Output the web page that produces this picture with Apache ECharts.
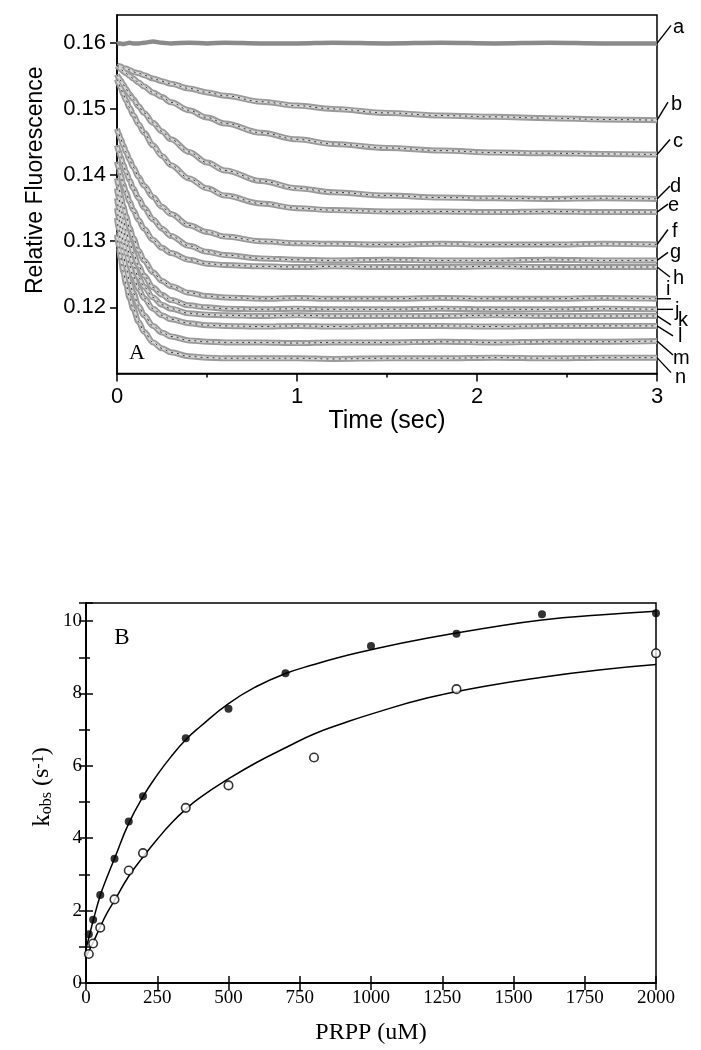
<!DOCTYPE html>
<html><head><meta charset="utf-8">
<script src="https://cdn.jsdelivr.net/npm/echarts@6/dist/echarts.min.js"></script>
<style>html,body{margin:0;padding:0;background:#fff}#c{width:701px;height:1050px}</style>
</head><body><div id="c"></div>
<script>
// ---------- Panel A data (time in s, relative fluorescence) ----------
const time = [0, 0.01, 0.02, 0.035, 0.05, 0.07, 0.09, 0.12, 0.15, 0.2, 0.25, 0.3, 0.4, 0.5, 0.6, 0.8, 1.0, 1.2, 1.5, 1.8, 2.1, 2.4, 2.7, 3.0];
const traceA = [0.1598,0.1599,0.1599,0.1598,0.1599,0.1600,0.1599,0.1599,0.1600,0.1602,0.1600,0.1599,0.1600,0.1599,0.1600,0.1599,0.1599,0.1600,0.1599,0.1600,0.1599,0.1600,0.1599,0.1599];
const traceB = [0.1566,0.1565,0.1564,0.1562,0.1561,0.1559,0.1556,0.1554,0.1551,0.1546,0.1542,0.1538,0.1531,0.1525,0.1520,0.1511,0.1505,0.1500,0.1494,0.1490,0.1488,0.1486,0.1484,0.1483];
const traceC = [0.1565,0.1563,0.1560,0.1557,0.1554,0.1550,0.1546,0.1540,0.1534,0.1525,0.1518,0.1510,0.1498,0.1487,0.1478,0.1464,0.1454,0.1447,0.1441,0.1437,0.1434,0.1433,0.1432,0.1431];
const traceD = [0.1552,0.1547,0.1543,0.1537,0.1530,0.1522,0.1515,0.1504,0.1494,0.1479,0.1466,0.1454,0.1435,0.1419,0.1407,0.1391,0.1380,0.1374,0.1369,0.1366,0.1365,0.1364,0.1365,0.1364];
const traceE = [0.1545,0.1538,0.1532,0.1522,0.1513,0.1502,0.1491,0.1477,0.1464,0.1445,0.1429,0.1415,0.1395,0.1380,0.1369,0.1357,0.1350,0.1347,0.1345,0.1345,0.1344,0.1345,0.1344,0.1344];
const traceF = [0.1470,0.1462,0.1455,0.1445,0.1435,0.1423,0.1412,0.1397,0.1384,0.1367,0.1352,0.1341,0.1324,0.1314,0.1307,0.1300,0.1297,0.1296,0.1295,0.1296,0.1295,0.1295,0.1296,0.1295];
const traceG = [0.1445,0.1436,0.1428,0.1416,0.1405,0.1392,0.1380,0.1365,0.1351,0.1333,0.1319,0.1308,0.1293,0.1284,0.1279,0.1274,0.1272,0.1271,0.1272,0.1271,0.1271,0.1272,0.1271,0.1271];
const traceH = [0.1420,0.1410,0.1400,0.1386,0.1374,0.1360,0.1347,0.1332,0.1319,0.1302,0.1290,0.1282,0.1272,0.1266,0.1264,0.1262,0.1261,0.1262,0.1261,0.1261,0.1262,0.1261,0.1261,0.1261];
const traceI = [0.1395,0.1382,0.1369,0.1353,0.1338,0.1320,0.1305,0.1286,0.1271,0.1253,0.1240,0.1232,0.1222,0.1217,0.1215,0.1213,0.1214,0.1213,0.1213,0.1214,0.1213,0.1213,0.1214,0.1213];
const traceJ = [0.1380,0.1365,0.1351,0.1333,0.1316,0.1298,0.1282,0.1263,0.1248,0.1230,0.1219,0.1211,0.1203,0.1200,0.1198,0.1197,0.1198,0.1197,0.1197,0.1198,0.1197,0.1197,0.1198,0.1197];
const traceK = [0.1365,0.1349,0.1335,0.1316,0.1299,0.1280,0.1264,0.1245,0.1231,0.1215,0.1204,0.1198,0.1191,0.1189,0.1188,0.1187,0.1188,0.1187,0.1187,0.1187,0.1188,0.1187,0.1187,0.1187];
const traceL = [0.1350,0.1334,0.1319,0.1299,0.1282,0.1263,0.1247,0.1228,0.1214,0.1198,0.1188,0.1182,0.1176,0.1173,0.1172,0.1171,0.1172,0.1171,0.1172,0.1172,0.1171,0.1172,0.1172,0.1172];
const traceM = [0.1335,0.1317,0.1300,0.1279,0.1260,0.1239,0.1222,0.1202,0.1188,0.1172,0.1162,0.1156,0.1150,0.1148,0.1147,0.1147,0.1146,0.1147,0.1147,0.1148,0.1147,0.1148,0.1148,0.1149];
const traceN = [0.1310,0.1292,0.1275,0.1254,0.1235,0.1214,0.1198,0.1178,0.1163,0.1147,0.1138,0.1132,0.1126,0.1124,0.1123,0.1123,0.1123,0.1122,0.1123,0.1123,0.1124,0.1123,0.1124,0.1124];
const traceNames = ['a','b','c','d','e','f','g','h','i','j','k','l','m','n'];
const traces = [traceA,traceB,traceC,traceD,traceE,traceF,traceG,traceH,traceI,traceJ,traceK,traceL,traceM,traceN];
const yTicksA = [0.12, 0.13, 0.14, 0.15, 0.16];

// ---------- Panel B data ----------
const prppFilled = [10,25,50,100,150,200,350,500,700,1000,1300,1600,2000];
const kobsFilled = [1.35,1.75,2.43,3.43,4.46,5.16,6.76,7.58,8.56,9.31,9.65,10.19,10.22];
const prppOpen = [10,25,50,100,150,200,350,500,800,1300,2000];
const kobsOpen = [0.80,1.09,1.53,2.31,3.11,3.59,4.84,5.46,6.23,8.12,9.11];
const fitX = [0,10,25,50,75,100,150,200,250,300,350,400,500,600,700,800,900,1000,1200,1400,1600,1800,2000];
const fitFilled = [0.95,1.25,1.72,2.42,2.95,3.44,4.41,5.15,5.75,6.27,6.72,7.08,7.72,8.20,8.55,8.80,9.02,9.21,9.53,9.80,10.03,10.17,10.27];
const fitOpen = [0.72,0.88,1.12,1.55,1.95,2.28,2.95,3.48,3.97,4.42,4.80,5.12,5.64,6.10,6.50,6.88,7.17,7.43,7.88,8.20,8.45,8.65,8.80];

// ---------- layout (annotation offsets, px, relative to each trace's end point) ----------
const leaderOffsets = [[14,-18],[11,-18],[13,-15],[13,-13],[11,-8],[11,-15],[11,-8],[13,10],[14,0],[16,0],[14,9],[16,10],[16,14],[14,15]];
const letterOffsets = [[16,-16],[14,-16],[16,-13],[13,-12],[11,-7],[15,-13],[13,-8],[16,11],[9,-9],[18,1],[21,5],[21,11],[16,17],[18,20]];

const SANS = 'Liberation Sans';
const SERIF = 'Liberation Serif';
const chart = echarts.init(document.getElementById('c'), null, {renderer: 'canvas'});

const series = [];
traces.forEach((vals, k) => {
  const data = time.map((t, i) => [t, vals[i]]);
  const isA = k === 0;
  series.push({type:'line', xAxisIndex:0, yAxisIndex:0, data, showSymbol:false, smooth:0.35, smoothMonotone:'x',
    lineStyle:{color: isA ? '#8a8a8a' : '#9a9a9a', width: isA ? 4.5 : 6}, silent:true, z:2});
  if (!isA) series.push({type:'line', xAxisIndex:0, yAxisIndex:0, data, showSymbol:false, smooth:0.35, smoothMonotone:'x',
    lineStyle:{color:'#d8d8d8', width:2.2}, silent:true, z:3});
  series.push({type:'line', xAxisIndex:0, yAxisIndex:0, data, showSymbol:false, smooth:0.35, smoothMonotone:'x',
    lineStyle:{color:'#111', width:1, type:[2,4], opacity: isA ? 0 : 0.8}, silent:true, z:4});
});
series.push({type:'line', xAxisIndex:1, yAxisIndex:1, data: fitX.map((x,i)=>[x, fitFilled[i]]), showSymbol:false, smooth:true,
  lineStyle:{color:'#000', width:1.5}, silent:true, z:2});
series.push({type:'line', xAxisIndex:1, yAxisIndex:1, data: fitX.map((x,i)=>[x, fitOpen[i]]), showSymbol:false, smooth:true,
  lineStyle:{color:'#000', width:1.5}, silent:true, z:2});
series.push({type:'scatter', xAxisIndex:1, yAxisIndex:1, data: prppFilled.map((x,i)=>[x, kobsFilled[i]]), symbol:'circle', symbolSize:8,
  itemStyle:{color:'#000'}, clip:false, z:5});
series.push({type:'scatter', xAxisIndex:1, yAxisIndex:1, data: prppOpen.map((x,i)=>[x, kobsOpen[i]]), symbol:'circle', symbolSize:8.5,
  itemStyle:{color:'#fff', borderColor:'#000', borderWidth:1.6}, clip:false, z:5});

const axLine = {show:true, lineStyle:{color:'#000', width:1.5}};
const option = {
  animation:false,
  backgroundColor:'#fff',
  grid:[
    {left:117, width:540, top:15, height:358.5, show:true, borderColor:'#000', borderWidth:1.5, outerBoundsMode:'none'},
    {left:86, width:570, top:603, height:380, show:true, borderColor:'#000', borderWidth:1.5, outerBoundsMode:'none'}
  ],
  xAxis:[
    {gridIndex:0, type:'value', min:0, max:3, interval:1, axisLine:axLine,
     axisTick:{show:true, inside:false, length:8, lineStyle:{color:'#000', width:1.5}},
     minorTick:{show:true, splitNumber:2, length:4, lineStyle:{color:'#000', width:1.5}},
     splitLine:{show:false}, minorSplitLine:{show:false},
     axisLabel:{color:'#000', fontFamily:SANS, fontSize:22, margin:12},
     name:'Time (sec)', nameLocation:'middle', nameGap:28,
     nameTextStyle:{color:'#000', fontFamily:SANS, fontSize:25}},
    {gridIndex:1, type:'value', min:0, max:2000, interval:250, axisLine:axLine,
     axisTick:{show:true, inside:true, length:7, lineStyle:{color:'#000', width:1.5}},
     splitLine:{show:false},
     axisLabel:{color:'#000', fontFamily:SERIF, fontSize:19, margin:6, formatter:(v)=>String(v)},
     name:'PRPP (uM)', nameLocation:'middle', nameGap:38,
     nameTextStyle:{color:'#000', fontFamily:SERIF, fontSize:24}},
    {gridIndex:1, type:'value', position:'top', min:0, max:2000, interval:250, axisLine:axLine,
     axisTick:{show:true, inside:true, length:7, lineStyle:{color:'#000', width:1.5}},
     splitLine:{show:false}, axisLabel:{show:false}}
  ],
  yAxis:[
    {gridIndex:0, type:'value', min:0.11, max:0.1642, interval:0.01, axisLine:axLine,
     axisTick:{show:true, inside:false, length:7, customValues:yTicksA, lineStyle:{color:'#000', width:1.5}},
     splitLine:{show:false},
     axisLabel:{color:'#000', fontFamily:SANS, fontSize:22, margin:11, customValues:yTicksA,
       formatter:(v)=> (v < 0.115 || v > 0.1635) ? '' : v.toFixed(2)},
     name:'Relative Fluorescence', nameLocation:'middle', nameGap:70,
     nameTextStyle:{color:'#000', fontFamily:SANS, fontSize:23, padding:[0,0,0,28]}},
    {gridIndex:1, type:'value', min:0, max:10.5, interval:2, axisLine:axLine,
     axisTick:{show:true, inside:true, length:7, lineStyle:{color:'#000', width:1.5}},
     minorTick:{show:true, splitNumber:2, length:4, lineStyle:{color:'#000', width:1.5}},
     splitLine:{show:false}, minorSplitLine:{show:false},
     axisLabel:{color:'#000', fontFamily:SERIF, fontSize:19, margin:4, showMaxLabel:false,
       formatter:(v)=> v > 10.2 ? '' : String(v)},
     name:'{k|k}{sub|obs}{n| (s}{sup|-1}{n|)}', nameLocation:'middle', nameGap:31, nameMoveOverlap:false,
     nameTextStyle:{color:'#000', fontFamily:SERIF, fontSize:24, padding:[0,0,0,12],
       rich:{
         k:{fontFamily:SERIF, fontSize:25, color:'#000', lineHeight:26, verticalAlign:'middle'},
         n:{fontFamily:SERIF, fontSize:24, color:'#000', lineHeight:26, verticalAlign:'middle'},
         sub:{fontFamily:SERIF, fontSize:16, color:'#000', lineHeight:26, verticalAlign:'bottom', padding:[0,0,0,0]},
         sup:{fontFamily:SERIF, fontSize:16, color:'#000', lineHeight:26, verticalAlign:'top', padding:[2,0,0,0]}
       }}},
    {gridIndex:1, type:'value', position:'right', min:0, max:10.5, interval:1, axisLine:axLine,
     axisTick:{show:true, inside:true, length:7, lineStyle:{color:'#000', width:1.5}},
     splitLine:{show:false}, axisLabel:{show:false}}
  ],
  series
};
chart.setOption(option);

// annotations: leader lines and letters at the end of every trace, via the chart's own scale
const graphics = [];
traces.forEach((vals, k) => {
  const p = chart.convertToPixel({xAxisIndex:0, yAxisIndex:0}, [time[time.length-1], vals[vals.length-1]]);
  const lo = leaderOffsets[k], to = letterOffsets[k];
  graphics.push({type:'line', shape:{x1:p[0], y1:p[1], x2:p[0]+lo[0], y2:p[1]+lo[1]},
    style:{stroke:'#000', lineWidth:1.4}, silent:true, z:10});
  graphics.push({type:'text', x:p[0]+to[0], y:p[1]+to[1],
    style:{text:traceNames[k], fill:'#000', fontFamily:SANS, fontSize:20, align:'left', verticalAlign:'middle'}, silent:true, z:10});
});
graphics.push({type:'text', x:137, y:353, style:{text:'A', fill:'#000', fontFamily:SERIF, fontSize:22, align:'center', verticalAlign:'middle'}, z:10});
graphics.push({type:'text', x:122, y:638, style:{text:'B', fill:'#000', fontFamily:SERIF, fontSize:23, align:'center', verticalAlign:'middle'}, z:10});
chart.setOption({graphic: graphics});
</script>
</body></html>
